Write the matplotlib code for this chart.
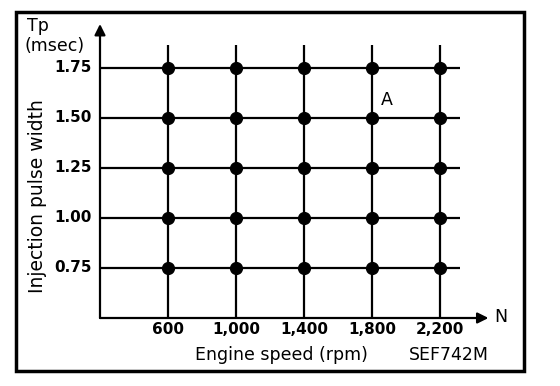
import matplotlib
matplotlib.use("Agg")
import matplotlib.pyplot as plt
from matplotlib.patches import Rectangle

# Data
speeds = [600, 1000, 1400, 1800, 2200]
speed_labels = ["600", "1,000", "1,400", "1,800", "2,200"]
pulse_widths = [0.75, 1.00, 1.25, 1.50, 1.75]
pulse_labels = ["0.75", "1.00", "1.25", "1.50", "1.75"]

plt.rcParams['font.family'] = ['DejaVu Sans']

W, H = 560, 386
fig = plt.figure(figsize=(W / 100, H / 100), dpi=100)

# axes: px left 100, right 491; bottom px 318, top px 18
ax = fig.add_axes([100 / W, (H - 318) / H, 391 / W, 300 / H])
ax.set_xlim(200, 2500)
ax.set_ylim(0.5, 2.0)
ax.axis('off')

lw = 1.6
# grid lines
for s in speeds:
    ax.plot([s, s], [0.5, 1.865], color='black', lw=lw, solid_capstyle='butt')
for p in pulse_widths:
    ax.plot([200, 2315], [p, p], color='black', lw=lw, solid_capstyle='butt')

# points
for s in speeds:
    for p in pulse_widths:
        ax.plot(s, p, 'o', color='black', markersize=8.5)

# axes arrows
ax.annotate('', xy=(2485, 0.5), xytext=(200, 0.5),
            arrowprops=dict(arrowstyle='-|>', color='black', lw=lw,
                            mutation_scale=16, shrinkA=0, shrinkB=0))
ax.annotate('', xy=(200, 1.97), xytext=(200, 0.5),
            arrowprops=dict(arrowstyle='-|>', color='black', lw=lw,
                            mutation_scale=16, shrinkA=0, shrinkB=0))

# tick labels
for p, lab in zip(pulse_widths, pulse_labels):
    ax.text(153, p, lab, ha='right', va='center', fontsize=11,
            fontweight='bold')
for s, lab in zip(speeds, speed_labels):
    ax.text(s, 0.44, lab, ha='center', va='center', fontsize=11,
            fontweight='bold')

ax.text(2560, 0.505, 'N', ha='center', va='center', fontsize=12.5)
ax.text(1888, 1.59, 'A', ha='center', va='center', fontsize=12.5)

# figure texts
fig.text(27 / W, 1 - 26 / H, 'Tp', ha='left', va='center', fontsize=12.5)
fig.text(24 / W, 1 - 46 / H, '(msec)', ha='left', va='center', fontsize=12.5)
fig.text(38 / W, 1 - 196 / H, 'Injection pulse width', ha='center',
         va='center', rotation=90, fontsize=13.5)
fig.text(281 / W, 1 - 355 / H, 'Engine speed (rpm)', ha='center',
         va='center', fontsize=12.5)
fig.text(449 / W, 1 - 355 / H, 'SEF742M', ha='center', va='center',
         fontsize=12.5)

# outer frame
fig.patches.append(Rectangle((16 / W, 1 - 371 / H), 508 / W, 359 / H,
                             transform=fig.transFigure, fill=False,
                             edgecolor='black', lw=2.5))

fig.savefig('out.png', dpi=100, facecolor='white')
